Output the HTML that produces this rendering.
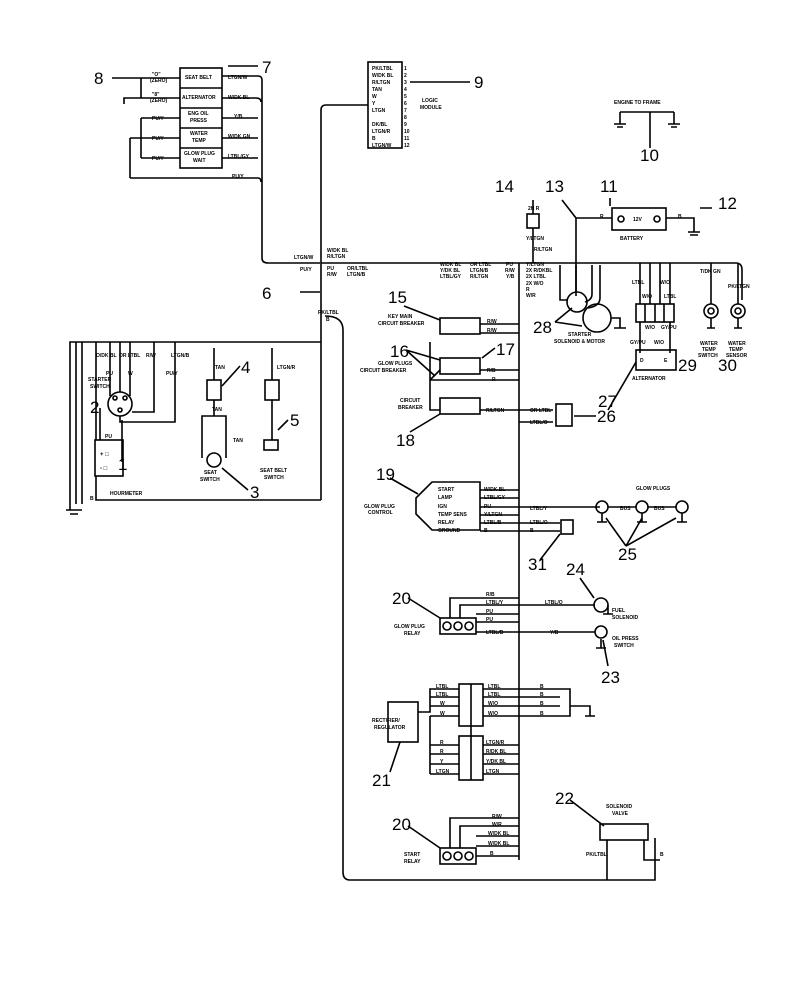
<!DOCTYPE html>
<html><head><meta charset="utf-8"><style>
html,body{margin:0;padding:0;background:#fff}
svg{display:block}
text{font-family:"Liberation Sans",sans-serif;fill:#000}
.s{font-size:5px;font-weight:bold}
.m{font-size:6px;font-weight:bold}
.n{font-size:17px}
</style></head><body>
<svg width="808" height="1000" viewBox="0 0 808 1000" fill="none" stroke="#000" stroke-width="1.6">
<!-- top-left indicator block -->
<rect x="180" y="68" width="42" height="100"/>
<line x1="180" y1="88" x2="222" y2="88"/><line x1="180" y1="108" x2="222" y2="108"/>
<line x1="180" y1="128" x2="222" y2="128"/><line x1="180" y1="148" x2="222" y2="148"/>
<g stroke="none"><text class="s" x="185" y="79">SEAT BELT</text><text class="s" x="182" y="99">ALTERNATOR</text>
<text class="s" x="188" y="115">ENG OIL</text><text class="s" x="190" y="122">PRESS</text>
<text class="s" x="190" y="135">WATER</text><text class="s" x="192" y="142">TEMP</text>
<text class="s" x="184" y="155">GLOW PLUG</text><text class="s" x="193" y="162">WAIT</text>
<text class="s" x="228" y="79">LTGN/W</text><text class="s" x="228" y="99">W/DK BL</text><text class="s" x="234" y="118">Y/B</text>
<text class="s" x="228" y="138">W/DK GN</text><text class="s" x="228" y="158">LTBL/GY</text><text class="s" x="232" y="178">PU/Y</text>
<text class="s" x="152" y="76">"O"</text><text class="s" x="150" y="82">(ZERO)</text>
<text class="s" x="152" y="96">"8"</text><text class="s" x="150" y="102">(ZERO)</text>
<text class="s" x="152" y="120">PU/Y</text><text class="s" x="152" y="140">PU/Y</text><text class="s" x="152" y="160">PU/Y</text>
</g>
<path d="M222 76H258Q262 76 262 80V258Q262 263 268 263H320"/>
<path d="M222 98H256Q261 98 261 102"/><path d="M222 118H258"/><path d="M222 138H258"/><path d="M222 158H258"/>
<path d="M130 178H258Q261 178 261 182"/>
<path d="M141 78H180M141 98H180M141 78V98M141 98H124V104"/>
<path d="M141 118H180M141 138H180M141 158H180M141 118V158M130 138V178M130 138H141"/>
<path d="M112 78H141"/><path d="M228 66H258"/>
<g stroke="none"><text class="n" x="94" y="84">8</text><text class="n" x="262" y="73">7</text></g>
<!-- logic module -->
<rect x="368" y="62" width="34" height="86"/>
<g stroke="none" class="s">
<text x="372" y="70">PK/LTBL</text><text x="372" y="77">W/DK BL</text><text x="372" y="84">R/LTGN</text><text x="372" y="91">TAN</text>
<text x="372" y="98">W</text><text x="372" y="105">Y</text><text x="372" y="112">LTGN</text><text x="372" y="126">DK/BL</text>
<text x="372" y="133">LTGN/R</text><text x="372" y="140">B</text><text x="372" y="147">LTGN/W</text>
<text x="404" y="70">1</text><text x="404" y="77">2</text><text x="404" y="84">3</text><text x="404" y="91">4</text><text x="404" y="98">5</text>
<text x="404" y="105">6</text><text x="404" y="112">7</text><text x="404" y="119">8</text><text x="404" y="126">9</text><text x="404" y="133">10</text>
<text x="404" y="140">11</text><text x="404" y="147">12</text>
<text x="422" y="102">LOGIC</text><text x="420" y="109">MODULE</text>
</g>
<path d="M368 105H326Q321 105 321 110V500"/>
<path d="M410 82H470"/><text class="n" x="474" y="88" stroke="none">9</text>
<!-- engine to frame -->
<g stroke="none"><text class="s" x="614" y="104">ENGINE TO FRAME</text><text class="n" x="640" y="161">10</text></g>
<path d="M620 112V124M614 124H626M617 127H623 M674 112V124M668 124H680M671 127H677 M650 112V148M620 112H674"/>
<!-- top horizontal bus -->
<path d="M321 263H736Q742 263 742 270V300"/>
<g stroke="none" class="s"><text x="294" y="259">LTGN/W</text><text x="300" y="271">PU/Y</text>
<text x="327" y="252">W/DK BL</text><text x="327" y="258">R/LTGN</text><text x="327" y="270">PU</text><text x="327" y="276">R/W</text>
<text x="347" y="270">OR/LTBL</text><text x="347" y="276">LTGN/B</text>
<text x="440" y="266">W/DK BL</text><text x="440" y="272">Y/DK BL</text><text x="440" y="278">LTBL/GY</text>
<text x="470" y="266">OR LTBL</text><text x="470" y="272">LTGN/B</text><text x="470" y="278">R/LTGN</text>
<text x="506" y="266">PU</text><text x="505" y="272">R/W</text><text x="506" y="278">Y/B</text>
<text x="526" y="266">Y/LTGN</text><text x="526" y="272">2X R/DKBL</text><text x="526" y="278">2X LTBL</text><text x="526" y="285">2X W/O</text><text x="526" y="291">R</text><text x="526" y="297">W/R</text>
<text x="534" y="251">R/LTGN</text>
<text x="318" y="314">PK/LTBL</text><text x="326" y="321">B</text>
</g>
<!-- right main vertical -->
<path d="M519 263V860"/>
<path d="M325 316Q343 316 343 330V872Q343 880 350 880H655V838"/>
<path d="M300 292H320"/><text class="n" x="262" y="299" stroke="none">6</text>
<!-- 14 & battery -->
<rect x="527" y="214" width="12" height="14"/><path d="M533 228V263M533 200V214"/>
<g stroke="none"><text class="n" x="495" y="192">14</text><text class="n" x="545" y="192">13</text><text class="n" x="600" y="192">11</text><text class="n" x="718" y="209">12</text>
<text class="s" x="528" y="210">2H R</text><text class="s" x="526" y="240">Y/LTGN</text></g>
<rect x="612" y="208" width="54" height="22"/><circle cx="621" cy="219" r="3"/><circle cx="657" cy="219" r="3"/>
<g stroke="none" class="s"><text x="620" y="240">BATTERY</text><text x="633" y="221">12V</text><text x="600" y="218">R</text><text x="678" y="218">B</text></g>
<path d="M576 218H612M666 218H694V232M688 232H700M690 235H698"/>
<path d="M576 218V296M562 200L576 218M610 198V206M700 208H712"/>
<!-- starter -->
<circle cx="577" cy="302" r="10"/><circle cx="597" cy="318" r="14"/>
<path d="M560 265V300H567M576 265V292M592 265V294Q592 300 585 302M600 265V298Q600 306 588 308M611 318H620V328M614 328H626"/>
<g stroke="none"><text class="n" x="533" y="333">28</text><text class="s" x="568" y="336">STARTER</text><text class="s" x="554" y="343">SOLENOID &amp; MOTOR</text></g>
<path d="M555 322L572 308M555 322L582 326"/>
<!-- alternator -->
<rect x="636" y="304" width="38" height="18"/><path d="M645 304V322M655 304V322M664 304V322"/>
<path d="M640 263V304M650 263V304M660 263V304M670 263V304M640 322V353M670 322V353"/>
<rect x="636" y="350" width="40" height="20"/>
<g stroke="none" class="s"><text x="632" y="284">LTBL</text><text x="660" y="284">W/O</text><text x="642" y="298">W/O</text><text x="664" y="298">LTBL</text>
<text x="645" y="329">W/O</text><text x="661" y="329">GY/PU</text><text x="630" y="344">GY/PU</text><text x="654" y="344">W/O</text>
<text x="632" y="380">ALTERNATOR</text><text x="640" y="362">D</text><text x="664" y="362">E</text></g>
<path d="M608 410L636 362"/><text class="n" x="598" y="407" stroke="none">27</text>
<!-- 29 30 -->
<circle cx="711" cy="311" r="7"/><circle cx="711" cy="311" r="3"/><circle cx="738" cy="311" r="7"/><circle cx="738" cy="311" r="3"/>
<path d="M711 263V304M738 263V304M711 318V328M707 328H715M738 318V328M734 328H742"/>
<g stroke="none" class="s"><text x="700" y="273">T/DK GN</text><text x="728" y="288">PK/LTGN</text>
<text x="700" y="345">WATER</text><text x="702" y="351">TEMP</text><text x="698" y="357">SWITCH</text>
<text x="728" y="345">WATER</text><text x="729" y="351">TEMP</text><text x="726" y="357">SENSOR</text></g>
<g stroke="none"><text class="n" x="678" y="371">29</text><text class="n" x="718" y="371">30</text></g>
<!-- circuit breakers -->
<rect x="440" y="318" width="40" height="16"/><rect x="440" y="358" width="40" height="16"/><rect x="440" y="398" width="40" height="16"/>
<g stroke="none" class="s"><text x="388" y="318">KEY MAIN</text><text x="378" y="325">CIRCUIT BREAKER</text>
<text x="378" y="365">GLOW PLUGS</text><text x="360" y="372">CIRCUIT BREAKER</text>
<text x="400" y="402">CIRCUIT</text><text x="398" y="409">BREAKER</text>
<text x="487" y="323">R/W</text><text x="487" y="332">R/W</text><text x="487" y="372">R/B</text><text x="492" y="381">R</text><text x="486" y="412">R/LTGN</text>
<text x="530" y="412">OR LTBL</text><text x="530" y="424">LTBL/O</text></g>
<path d="M480 324H519M480 333H519M480 370H519M430 380H519M430 380L440 370M480 410H519M519 410H553M519 422H553M430 342V410H440"/>
<rect x="556" y="404" width="16" height="22"/><path d="M574 416H596"/>
<g stroke="none"><text class="n" x="388" y="303">15</text><text class="n" x="390" y="357">16</text><text class="n" x="496" y="355">17</text><text class="n" x="396" y="446">18</text><text class="n" x="597" y="422">26</text></g>
<path d="M404 306L440 320M406 350L440 360M406 350L435 376M495 348L482 358M410 432L440 414"/>
<!-- glow plug control -->
<path d="M416 498L432 482H480V530H432L416 514Z"/>
<g stroke="none" class="s"><text x="438" y="491">START</text><text x="438" y="499">LAMP</text><text x="438" y="508">IGN</text><text x="438" y="516">TEMP SENS</text><text x="438" y="524">RELAY</text><text x="438" y="532">GROUND</text>
<text x="364" y="508">GLOW PLUG</text><text x="368" y="514">CONTROL</text>
<text x="484" y="491">W/DK BL</text><text x="484" y="499">LTBL/GY</text><text x="484" y="508">PU</text><text x="484" y="516">Y/LTGN</text><text x="484" y="524">LTBL/B</text><text x="484" y="532">B</text>
<text x="530" y="510">LTBL/Y</text><text x="530" y="524">LTBL/O</text><text x="530" y="532">B</text>
<text x="636" y="490">GLOW PLUGS</text><text x="620" y="510">BUS</text><text x="654" y="510">BUS</text></g>
<path d="M480 490H519M480 498H519M480 507H519M480 515H519M480 523H519M480 531H519M519 507H600M519 523H560M519 531H560"/>
<rect x="561" y="520" width="12" height="14"/>
<circle cx="602" cy="507" r="6"/><circle cx="642" cy="507" r="6"/><circle cx="682" cy="507" r="6"/>
<path d="M608 507H636M648 507H676M602 513V522M642 513V522M682 513V522M597 522H607M637 522H647M677 522H687"/>
<g stroke="none"><text class="n" x="376" y="480">19</text><text class="n" x="528" y="570">31</text><text class="n" x="618" y="560">25</text></g>
<path d="M390 478L418 494M540 560L560 534M626 546L606 518M626 546L642 518M626 546L676 518"/>
<!-- relay 1 -->
<rect x="440" y="618" width="36" height="16"/><circle cx="447" cy="626" r="4"/><circle cx="458" cy="626" r="4"/><circle cx="469" cy="626" r="4"/>
<path d="M450 618V598H519M460 618V605H519M476 614H519M476 622H519M476 632H519M519 605H595M519 632H595"/>
<g stroke="none" class="s"><text x="486" y="596">R/B</text><text x="486" y="604">LTBL/Y</text><text x="486" y="613">PU</text><text x="486" y="621">PU</text><text x="486" y="634">LTBL/B</text>
<text x="394" y="628">GLOW PLUG</text><text x="404" y="635">RELAY</text>
<text x="545" y="604">LTBL/O</text><text x="550" y="634">Y/B</text><text x="612" y="612">FUEL</text><text x="612" y="619">SOLENOID</text>
<text x="612" y="640">OIL PRESS</text><text x="614" y="647">SWITCH</text></g>
<circle cx="601" cy="605" r="7"/><circle cx="601" cy="632" r="6"/><path d="M601 639V648M596 648H606M608 605V614M603 614H613"/>
<g stroke="none"><text class="n" x="392" y="604">20</text><text class="n" x="566" y="575">24</text><text class="n" x="601" y="683">23</text></g>
<path d="M408 598L440 618M580 578L594 598M608 666L603 640"/>
<!-- rectifier connectors -->
<rect x="388" y="702" width="30" height="40"/>
<g stroke="none" class="s"><text x="372" y="722">RECTIFIER/</text><text x="374" y="729">REGULATOR</text></g>
<rect x="459" y="684" width="24" height="42"/><rect x="459" y="736" width="24" height="44"/>
<path d="M471 684V780M418 712H430V689H459M430 697H459M430 706H459M430 716H459M430 745H459M430 754H459M430 764H459M430 774H459M430 716V774"/>
<path d="M483 689H560M483 697H560M483 706H560M483 716H560M483 745H519M483 754H519M483 764H519M483 774H519M519 689H570V716H560M570 706H590V716M585 716H595"/>
<g stroke="none" class="s">
<text x="436" y="688">LTBL</text><text x="436" y="696">LTBL</text><text x="440" y="705">W</text><text x="440" y="715">W</text>
<text x="440" y="744">R</text><text x="440" y="753">R</text><text x="440" y="763">Y</text><text x="436" y="773">LTGN</text>
<text x="488" y="688">LTBL</text><text x="488" y="696">LTBL</text><text x="488" y="705">W/O</text><text x="488" y="715">W/O</text>
<text x="486" y="744">LTGN/R</text><text x="486" y="753">R/DK BL</text><text x="486" y="763">Y/DK BL</text><text x="486" y="773">LTGN</text>
<text x="540" y="688">B</text><text x="540" y="696">B</text><text x="540" y="705">B</text><text x="540" y="715">B</text></g>
<text class="n" x="372" y="786" stroke="none">21</text><path d="M390 772L400 742"/>
<!-- start relay -->
<rect x="440" y="848" width="36" height="16"/><circle cx="447" cy="856" r="4"/><circle cx="458" cy="856" r="4"/><circle cx="469" cy="856" r="4"/>
<path d="M450 848V818H519M460 848V826H519M476 836H519M476 846H519M476 856H519"/>
<g stroke="none" class="s"><text x="492" y="818">R/W</text><text x="492" y="826">W/R</text><text x="488" y="835">W/DK BL</text><text x="488" y="845">W/DK BL</text><text x="490" y="855">B</text>
<text x="404" y="856">START</text><text x="404" y="863">RELAY</text>
<text x="606" y="808">SOLENOID</text><text x="612" y="815">VALVE</text><text x="586" y="856">PK/LTBL</text><text x="660" y="856">B</text></g>
<g stroke="none"><text class="n" x="392" y="830">20</text><text class="n" x="555" y="804">22</text></g>
<path d="M408 826L440 848M570 800L604 826"/>
<rect x="600" y="824" width="48" height="16"/><path d="M607 840V880M644 840V860H660"/>
<!-- left area -->
<path d="M321 342H70V510M76 342V504M82 342V504M66 510H82M70 514H78"/>
<g stroke="none" class="s"><text x="96" y="357">O/DK BL</text><text x="119" y="357">OR LTBL</text><text x="146" y="357">R/W</text><text x="171" y="357">LTGN/B</text>
<text x="88" y="381">STARTER</text><text x="90" y="388">SWITCH</text><text x="105" y="438">PU</text><text x="106" y="375">PU</text><text x="128" y="375">W</text>
<text x="215" y="369">TAN</text><text x="277" y="369">LTGN/R</text><text x="212" y="411">TAN</text><text x="233" y="442">TAN</text>
<text x="110" y="495">HOURMETER</text><text x="260" y="472">SEAT BELT</text><text x="264" y="479">SWITCH</text>
<text x="204" y="474">SEAT</text><text x="200" y="481">SWITCH</text><text x="166" y="375">PU/Y</text><text x="90" y="500">B</text></g>
<circle cx="120" cy="404" r="12"/><circle cx="115" cy="398" r="2"/><circle cx="125" cy="398" r="2"/><circle cx="120" cy="410" r="2"/>
<path d="M110 342V396M120 342V392M130 342V396M154 342V412H132M175 342V422H120V416M96 342V440"/>
<rect x="95" y="440" width="28" height="36"/><g stroke="none"><text class="m" x="100" y="456">+ □</text><text class="m" x="100" y="470">- □</text></g>
<path d="M96 476V500H321"/>
<rect x="207" y="380" width="14" height="20"/><rect x="265" y="380" width="14" height="20"/>
<path d="M214 348V380M214 400V416H202V458M214 416H226V458M272 348V380M272 400V440"/>
<circle cx="214" cy="460" r="7"/><rect x="264" y="440" width="14" height="10"/>
<g stroke="none"><text class="n" x="90" y="413">2</text><text class="n" x="118" y="470">1</text><text class="n" x="241" y="373">4</text><text class="n" x="290" y="426">5</text><text class="n" x="250" y="498">3</text></g>
<path d="M100 408V440M122 462V420M240 366L222 386M288 420L278 430M248 490L222 468"/>
</svg>
</body></html>
